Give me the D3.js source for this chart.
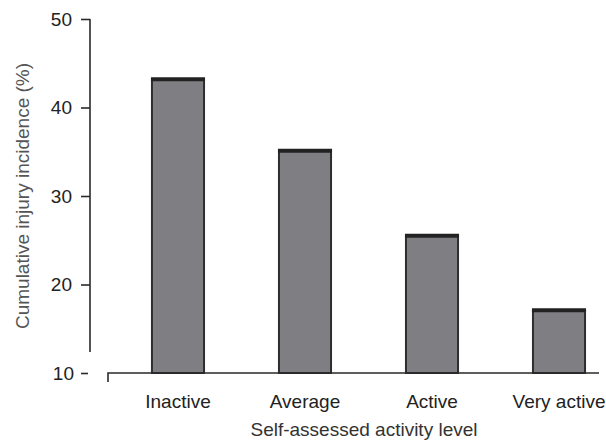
<!DOCTYPE html>
<html>
<head>
<meta charset="utf-8">
<script src="https://cdn.jsdelivr.net/npm/d3@7"></script>
<style>
  html, body { margin: 0; padding: 0; background: #fff; }
  svg { display: block; }
  text { font-family: "Liberation Sans", Arial, Helvetica, sans-serif; }
</style>
</head>
<body>
<svg id="chart" width="606" height="441"></svg>
<script>
const categories = ["Inactive", "Average", "Active", "Very active"];
const values = [43.2, 35.1, 25.5, 17.1];
const yTicks = [10, 20, 30, 40, 50];
const xTitle = "Self-assessed activity level";
const yTitle = "Cumulative injury incidence (%)";

const svg = d3.select("#chart");

const y = d3.scaleLinear().domain([10, 50]).range([373, 19]);
const x = d3.scaleBand().domain(categories).range([114.5, 622.5])
  .paddingInner(0.59).paddingOuter(0.295);

// Y axis
const yAxis = svg.append("g").attr("transform", "translate(90,0)")
  .call(d3.axisLeft(y).tickValues(yTicks).tickSize(9).tickPadding(8).tickFormat(d3.format("d")));
yAxis.select(".domain").remove();
yAxis.selectAll(".tick line").attr("stroke", "#2a2a2a").attr("stroke-width", 1.6);
yAxis.selectAll(".tick text").attr("font-size", 19).attr("fill", "#222").attr("dx", -1);
yAxis.selectAll(".tick").filter(d => d === 10).select("line")
  .attr("x1", -9).attr("x2", -2);
yAxis.selectAll(".tick").filter(d => d === 10).select("text").attr("dx", 1);
svg.append("line")
  .attr("x1", 90).attr("x2", 90)
  .attr("y1", y(50)).attr("y2", y(10) - 21)
  .attr("stroke", "#2a2a2a").attr("stroke-width", 1.6);

// Bars
const bars = svg.append("g");
categories.forEach((c, i) => {
  bars.append("rect")
    .attr("x", x(c)).attr("y", y(values[i]))
    .attr("width", x.bandwidth()).attr("height", y(10) - y(values[i]))
    .attr("fill", "#7f7f83").attr("stroke", "#2e2e2e").attr("stroke-width", 2);
  bars.append("line")
    .attr("x1", x(c) - 1).attr("x2", x(c) + x.bandwidth() + 1)
    .attr("y1", y(values[i])).attr("y2", y(values[i]))
    .attr("stroke", "#222").attr("stroke-width", 4);
});

// X axis line
const x0 = 108, x1 = 599;
svg.append("path")
  .attr("d", `M${x0},${y(10) + 9}V${y(10)}H${x1}`)
  .attr("fill", "none").attr("stroke", "#2a2a2a").attr("stroke-width", 1.6);

// X labels
svg.append("g").selectAll("text").data(categories).join("text")
  .attr("x", d => x(d) + x.bandwidth() / 2)
  .attr("y", 408)
  .attr("text-anchor", "middle")
  .attr("font-size", 19)
  .attr("fill", "#222")
  .text(d => d);

// Titles
svg.append("text")
  .attr("x", 364).attr("y", 436)
  .attr("text-anchor", "middle").attr("font-size", 19).attr("fill", "#333")
  .text(xTitle);

svg.append("text")
  .attr("transform", "translate(29,196) rotate(-90)")
  .attr("text-anchor", "middle").attr("font-size", 19).attr("fill", "#555")
  .text(yTitle);
</script>
</body>
</html>
